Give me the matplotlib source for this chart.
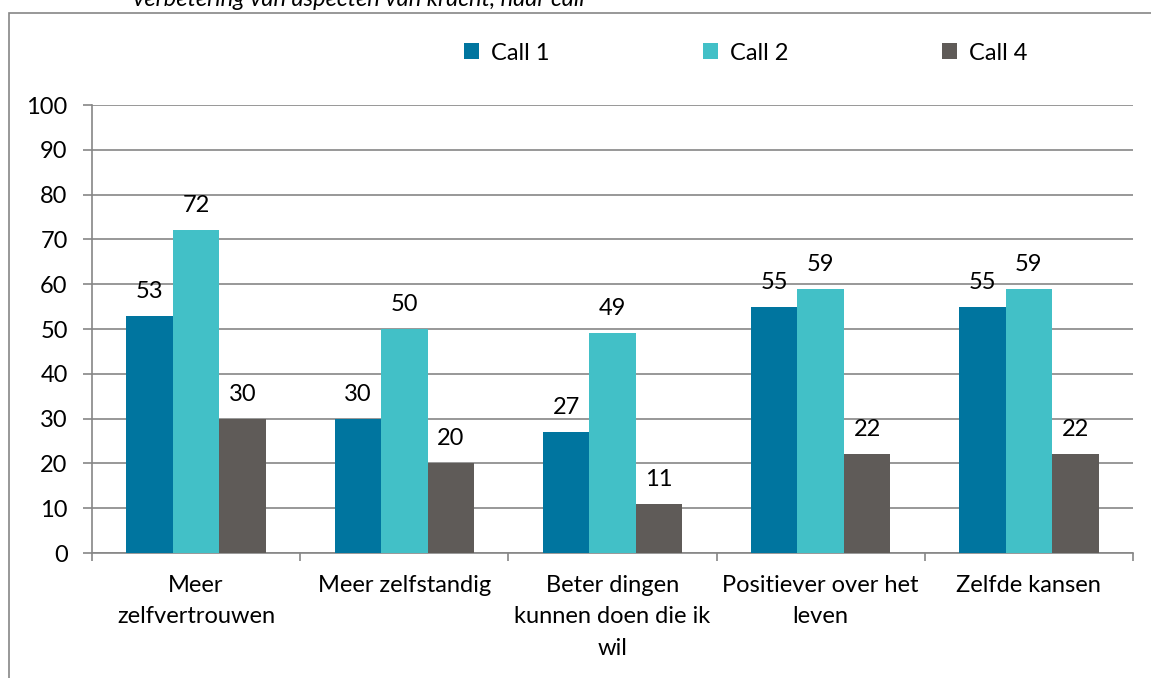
import matplotlib
matplotlib.use("Agg")
import numpy as np
from matplotlib import pyplot as plt
from matplotlib.patches import Rectangle

categories = ["Meer\nzelfvertrouwen", "Meer zelfstandig", "Beter dingen\nkunnen doen die ik\nwil",
              "Positiever over het\nleven", "Zelfde kansen"]
series_names = ["Call 1", "Call 2", "Call 4"]
call1 = [53, 30, 27, 55, 55]
call2 = [72, 50, 49, 59, 59]
call4 = [30, 20, 11, 22, 22]
colors = ["#00759F", "#42C0C7", "#5F5B58"]
title = "verbetering van aspecten van kracht, naar call"

plt.rcParams['font.family'] = ['Lato', 'DejaVu Sans']
fs = 17
grey = "#868686"

W, H = 1151, 678
fig = plt.figure(figsize=(W / 100, H / 100), dpi=100)

# outer chart border, only its top and left edge are inside the picture
fig.patches.append(Rectangle((9 / W, -0.2), 1.2, 1.2 - 13 / H, transform=fig.transFigure,
                             fill=False, edgecolor=grey, linewidth=1.2))
fig.text(133 / W, 1 - 6 / H, title, style='italic', fontsize=fs, va='baseline', ha='left')

ax = fig.add_axes([92 / W, (H - 553) / H, (1133 - 92) / W, (553 - 105) / H])

x = np.arange(len(categories)) + 0.5
bw = 0.223
for i, (vals, name) in enumerate(zip([call1, call2, call4], series_names)):
    bars = ax.bar(x + (i - 1) * bw, vals, bw, color=colors[i], label=name, zorder=3)
    for b, v in zip(bars, vals):
        ax.annotate(str(v), (b.get_x() + b.get_width() / 2, v), xytext=(0, 13),
                    textcoords='offset points', ha='center', va='baseline', fontsize=fs)

ax.set_xlim(0, len(categories))
ax.set_ylim(0, 100)
ax.set_yticks(range(0, 101, 10))
ax.yaxis.grid(True, color=grey, linewidth=1.2, zorder=0)
ax.set_xticks(range(len(categories) + 1))
ax.set_xticklabels([])
ax.set_xticks(x, minor=True)
ax.set_xticklabels(categories, minor=True, fontsize=fs, linespacing=1.6)
ax.tick_params(axis='x', which='minor', length=0, pad=16)
ax.tick_params(axis='x', which='major', length=6, color=grey, width=1.2)
ax.tick_params(axis='y', length=6.5, color=grey, width=1.2, labelsize=fs, pad=11)
for s in ['top', 'right']:
    ax.spines[s].set_visible(False)
for s in ['left', 'bottom']:
    ax.spines[s].set_color(grey)
    ax.spines[s].set_linewidth(1.2)
ax.spines['left'].set_bounds(0, 100)

fig.legend(loc='center left', bbox_to_anchor=(464 / W, 1 - 53 / H), ncol=3, frameon=False,
           fontsize=fs, handlelength=0.64, handleheight=0.64, handletextpad=0.5,
           columnspacing=6.5, borderpad=0, borderaxespad=0)

fig.savefig("out.png", dpi=100)
